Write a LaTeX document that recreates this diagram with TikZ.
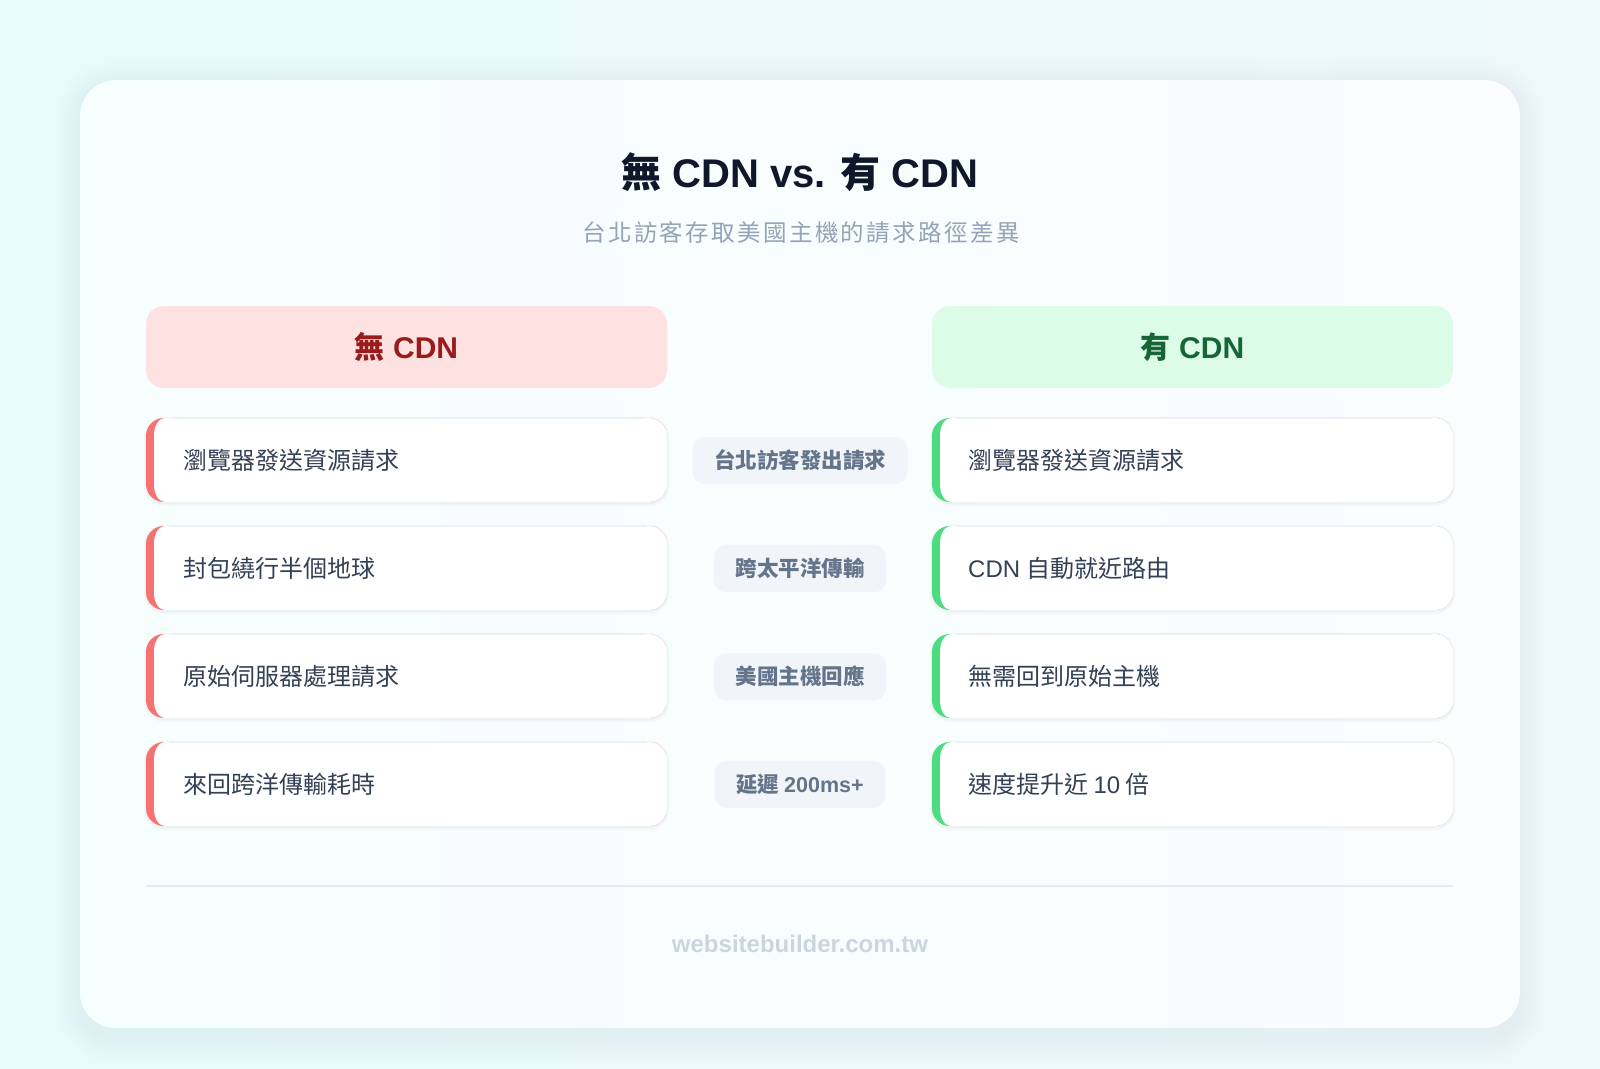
\documentclass[tikz,border=0pt]{standalone}
\usepackage{fontspec}
\setmainfont{Liberation Sans}
\newfontfamily\cjk{Noto Sans CJK TC}
\newfontfamily\cjksp[LetterSpace=10]{Noto Sans CJK TC}
\newcommand\zh[1]{{\cjk #1}}
\definecolor{titlec}{HTML}{0F172A}
\definecolor{subc}{HTML}{94A3B8}
\definecolor{redfill}{HTML}{FEE2E2}
\definecolor{redtext}{HTML}{991B1B}
\definecolor{greenfill}{HTML}{DCFCE7}
\definecolor{greentext}{HTML}{166534}
\definecolor{rowtext}{HTML}{334155}
\definecolor{redstripe}{HTML}{F87171}
\definecolor{greenstripe}{HTML}{4ADE80}
\definecolor{pillfill}{HTML}{F1F5F9}
\definecolor{pilltext}{HTML}{64748B}
\definecolor{divc}{HTML}{E5EAF0}
\definecolor{footc}{HTML}{CBD5E1}
\definecolor{boxborder}{HTML}{EDF0F4}
\definecolor{bgA}{HTML}{E7FBFC}
\definecolor{bgB}{HTML}{EEF8FC}
\definecolor{cardA}{HTML}{F6FEFE}
\definecolor{cardB}{HTML}{FAFCFE}
\definecolor{shadowc}{HTML}{8FB4C4}

\tikzset{
  rowlabel/.style={anchor=base west, font=\fontsize{24}{29}\selectfont\cjk, text=rowtext, inner sep=0},
  pill/.style={fill=pillfill, rounded corners=12pt, minimum height=47pt, inner xsep=21.5pt, inner ysep=0pt,
     text height=19pt, text depth=2.6pt, font=\fontsize{21.5}{26}\selectfont\bfseries\cjk, text=pilltext},
  headlabel/.style={anchor=base, font=\fontsize{30}{35}\selectfont\bfseries, inner sep=0},
}

% #1 left x, #2 top y, #3 stripe colour
\newcommand\cardrow[3]{%
  \fill[black, opacity=0.022, rounded corners=20pt] (#1-2,#2-1) rectangle (#1+523,#2+88);
  \fill[black, opacity=0.022, rounded corners=19pt] (#1-1,#2) rectangle (#1+522,#2+86);
  \draw[boxborder, line width=1.2pt, rounded corners=18pt] (#1,#2) rectangle (#1+521,#2+84);
  \begin{scope}
    \clip[rounded corners=18pt] (#1,#2) rectangle (#1+521,#2+84);
    \fill[#3] (#1,#2) rectangle (#1+521,#2+84);
    \fill[white] (#1+8,#2+18) .. controls (#1+8,#2+8) and (#1+12,#2) .. (#1+20,#2)
       -- (#1+530,#2) -- (#1+530,#2+84) -- (#1+20,#2+84)
       .. controls (#1+12,#2+84) and (#1+8,#2+76) .. (#1+8,#2+66) -- cycle;
  \end{scope}
  \draw[boxborder, line width=1pt] (#1+24,#2) -- (#1+500,#2);
}

\begin{document}
\begin{tikzpicture}[x=1pt,y=-1pt]
\useasboundingbox (0,0) rectangle (1600,1068);
% background
\shade[left color=bgA, right color=bgB] (0,0) rectangle (1600,1068);
% card shadow
\foreach \i in {1,...,10}{
  \fill[shadowc, opacity=0.008, rounded corners={36pt+\i*2.5pt}] (80-\i*2.5,80-\i*2.5+6) rectangle (1520+\i*2.5,1028+\i*2.5+10);
}
% card
\shade[left color=cardA, right color=cardB, rounded corners=36pt] (80,80) rectangle (1520,1028);

% title
\node[anchor=base, font=\fontsize{40}{48}\selectfont\bfseries, text=titlec, inner sep=0] (title) at (800,187.5) {\zh{無} CDN vs. \zh{有} CDN};
\node[anchor=base, font=\fontsize{23.5}{28}\selectfont\cjksp, text=subc, inner sep=0] (subtitle) at (801,241.5) {台北訪客存取美國主機的請求路徑差異};

% headers
\fill[redfill, rounded corners=18pt] (146,306) rectangle (667,388);
\fill[greenfill, rounded corners=18pt] (932,306) rectangle (1453,388);
\node[headlabel, text=redtext] (hleft) at (406.5,358) {\zh{無} CDN};
\node[headlabel, text=greentext] (hright) at (1192.5,358) {\zh{有} CDN};

% rows
\cardrow{146}{418}{redstripe}
\cardrow{146}{526}{redstripe}
\cardrow{146}{634}{redstripe}
\cardrow{146}{742}{redstripe}
\cardrow{932}{418}{greenstripe}
\cardrow{932}{526}{greenstripe}
\cardrow{932}{634}{greenstripe}
\cardrow{932}{742}{greenstripe}

\node[rowlabel] (l1) at (183,469) {瀏覽器發送資源請求};
\node[rowlabel] (l2) at (183,577) {封包繞行半個地球};
\node[rowlabel] (l3) at (183,685) {原始伺服器處理請求};
\node[rowlabel] (l4) at (183,793) {來回跨洋傳輸耗時};

\node[rowlabel] (r1) at (968,469) {瀏覽器發送資源請求};
\node[rowlabel] (r2) at (968,577) {\rmfamily CDN \cjk 自動就近路由};
\node[rowlabel] (r3) at (968,685) {無需回到原始主機};
\node[rowlabel] (r4) at (968,793) {速度提升近 {\rmfamily 10} 倍};

% middle pills
\node[pill] (m1) at (800,460.5) {台北訪客發出請求};
\node[pill] (m2) at (800,568.5) {跨太平洋傳輸};
\node[pill] (m3) at (800,676.5) {美國主機回應};
\node[pill] (m4) at (800,784.5) {延遲 {\rmfamily\bfseries 200ms+}};

% divider
\coordinate (dl) at (146,886);
\coordinate (dr) at (1453,886);
\draw[divc, line width=2pt] (dl) -- (dr);

% footer
\node[anchor=base, font=\fontsize{24}{28}\selectfont\bfseries, text=footc, inner sep=0] (footer) at (800,952) {websitebuilder.com.tw};
\end{tikzpicture}
\end{document}
